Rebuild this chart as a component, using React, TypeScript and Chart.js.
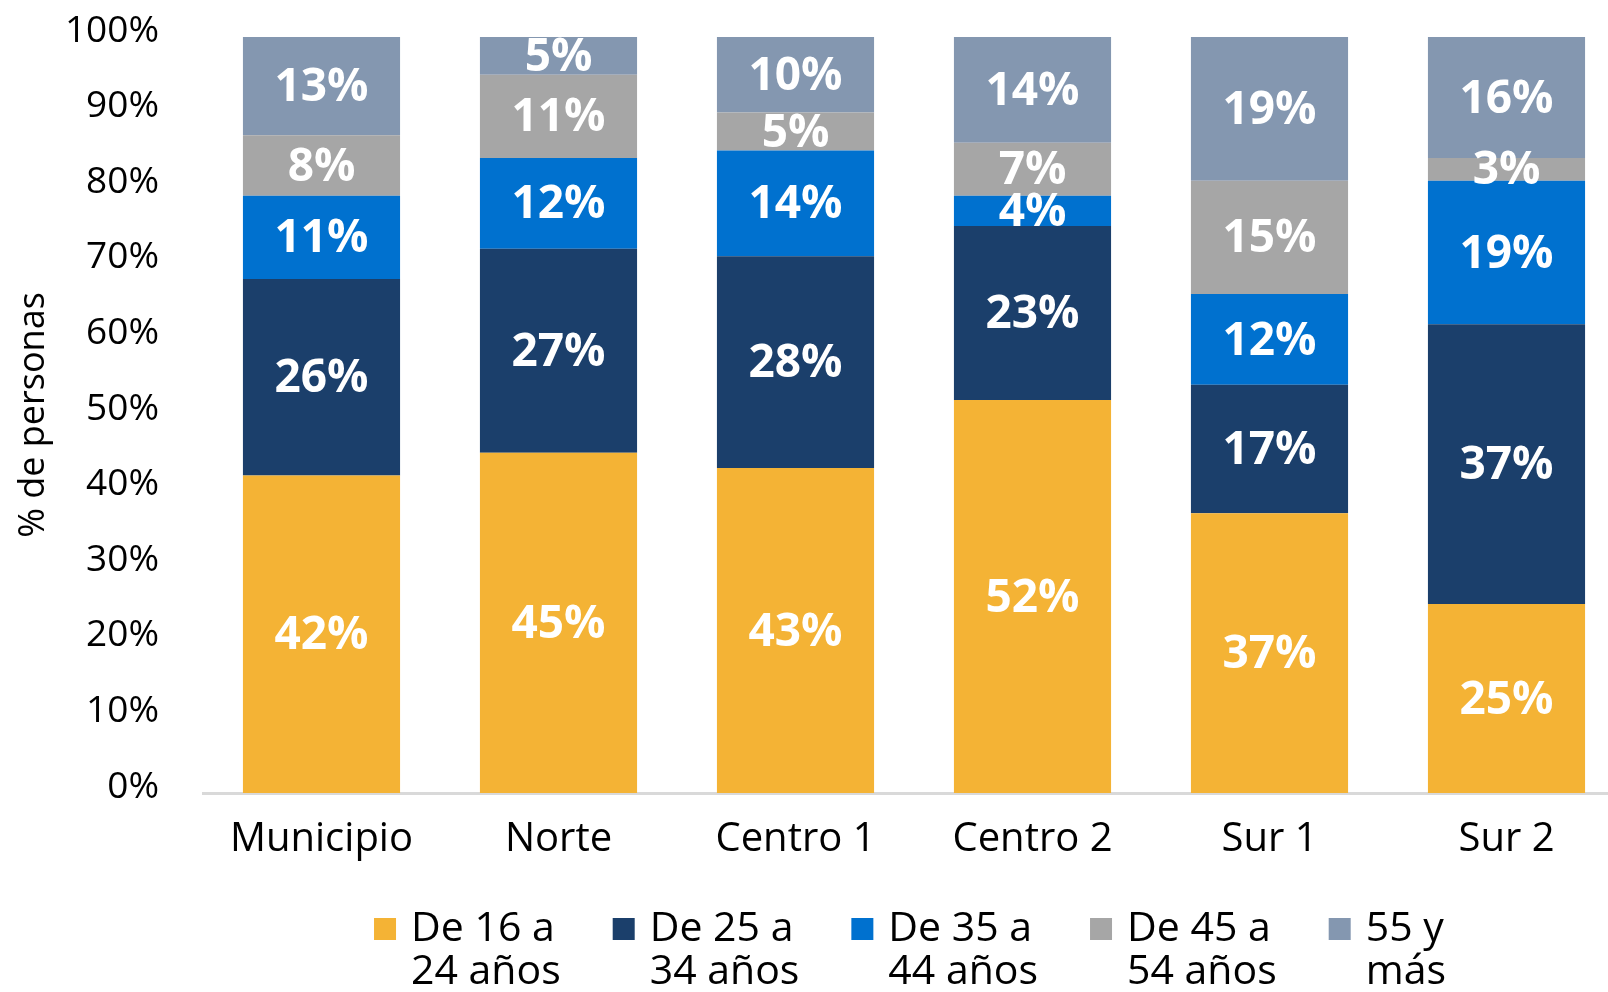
import React, { useEffect, useRef } from "react";
import { Chart, registerables } from "chart.js";

Chart.register(...registerables);

const categories = ["Municipio", "Norte", "Centro 1", "Centro 2", "Sur 1", "Sur 2"];
const age16to24 = [42, 45, 43, 52, 37, 25];
const age25to34 = [26, 27, 28, 23, 17, 37];
const age35to44 = [11, 12, 14, 4, 12, 19];
const age45to54 = [8, 11, 5, 7, 15, 3];
const age55plus = [13, 5, 10, 14, 19, 16];
const seriesLabels = [
  ["De 16 a", "24 años"],
  ["De 25 a", "34 años"],
  ["De 35 a", "44 años"],
  ["De 45 a", "54 años"],
  ["55 y", "más"],
];
const seriesColors = ["#F4B335", "#1B3F6B", "#0071CF", "#A6A6A6", "#8497B0"];
const yTickValues = [0, 10, 20, 30, 40, 50, 60, 70, 80, 90, 100];
const yTitle = "% de personas";

const FONT = "'Open Sans', 'DejaVu Sans', sans-serif";

const segmentLabels = {
  id: "segmentLabels",
  afterDatasetsDraw(chart: any) {
    const ctx = chart.ctx;
    ctx.save();
    ctx.font = `bold 46px ${FONT}`;
    ctx.fillStyle = "#ffffff";
    ctx.textAlign = "center";
    ctx.textBaseline = "middle";
    chart.data.datasets.forEach((ds: any, di: number) => {
      const meta = chart.getDatasetMeta(di);
      meta.data.forEach((el: any, i: number) => {
        const v = ds.data[i];
        const p = el.getProps(["x", "y", "base"], true);
        ctx.fillText(`${v}%`, p.x, (p.y + p.base) / 2 + 2);
      });
    });
    ctx.restore();
  },
};

const multiLineLegend = {
  id: "multiLineLegend",
  afterDraw(chart: any) {
    const ctx = chart.ctx;
    const area = chart.chartArea;
    const box = 22;
    const gapText = 15;
    const gapItem = 52;
    const lineH = 43;
    ctx.save();
    ctx.font = `41px ${FONT}`;
    ctx.textBaseline = "middle";
    ctx.textAlign = "left";
    const widths = seriesLabels.map((lines) =>
      Math.max(...lines.map((l) => ctx.measureText(l).width))
    );
    const itemW = widths.map((w) => box + gapText + w);
    const total = itemW.reduce((a, b) => a + b, 0) + gapItem * (itemW.length - 1);
    let x = (area.left + area.right) / 2 - total / 2 - 4;
    const y0 = chart.height - 63;
    seriesLabels.forEach((lines, i) => {
      ctx.fillStyle = seriesColors[i];
      ctx.fillRect(x, y0 - box / 2, box, box);
      ctx.fillStyle = "#000";
      lines.forEach((l, li) => {
        ctx.fillText(l, x + box + gapText, y0 + li * lineH);
      });
      x += itemW[i] + gapItem;
    });
    ctx.restore();
  },
};

export default function App() {
  const ref = useRef<HTMLCanvasElement | null>(null);

  useEffect(() => {
    if (!ref.current) return;
    const series = [age16to24, age25to34, age35to44, age45to54, age55plus];
    const chart = new Chart(ref.current, {
      type: "bar",
      data: {
        labels: categories,
        datasets: series.map((d, i) => ({
          label: seriesLabels[i].join(" "),
          data: d,
          backgroundColor: seriesColors[i],
          borderWidth: 0,
          barPercentage: 0.663,
          categoryPercentage: 1,
        })),
      },
      options: {
        responsive: false,
        animation: false,
        layout: { padding: { left: 12, top: 37, right: 5, bottom: 113 } },
        plugins: {
          tooltip: { enabled: false },
          legend: { display: false },
        },
        scales: {
          x: {
            stacked: true,
            grid: { display: false },
            border: { display: true, color: "#D9D9D9", width: 3 },
            ticks: {
              color: "#000",
              font: { family: FONT, size: 40 },
              padding: 15,
            },
          },
          y: {
            stacked: true,
            min: 0,
            max: 100,
            grid: { display: false, drawTicks: false },
            border: { display: false },
            afterBuildTicks(scale: any) {
              scale.ticks = yTickValues.map((v) => ({ value: v }));
            },
            afterFit(scale: any) {
              scale.width = 191;
              scale.paddingTop = 0;
              scale.paddingBottom = 0;
            },
            ticks: {
              color: "#000",
              font: { family: FONT, size: 37 },
              padding: 44,
              labelOffset: -6,
              callback: (v: any) => `${v}%`,
            },
            title: {
              display: true,
              text: yTitle,
              color: "#000",
              font: { family: FONT, size: 36 },
              padding: { top: 0, bottom: 0 },
            },
          },
        },
      },
      plugins: [segmentLabels, multiLineLegend],
    });
    return () => chart.destroy();
  }, []);

  return (
    <div
      style={{
        position: "fixed",
        left: 0,
        top: 0,
        width: 1608,
        height: 992,
        overflow: "hidden",
        background: "#fff",
      }}
    >
      <canvas ref={ref} width={1630} height={992} style={{ display: "block" }} />
    </div>
  );
}
